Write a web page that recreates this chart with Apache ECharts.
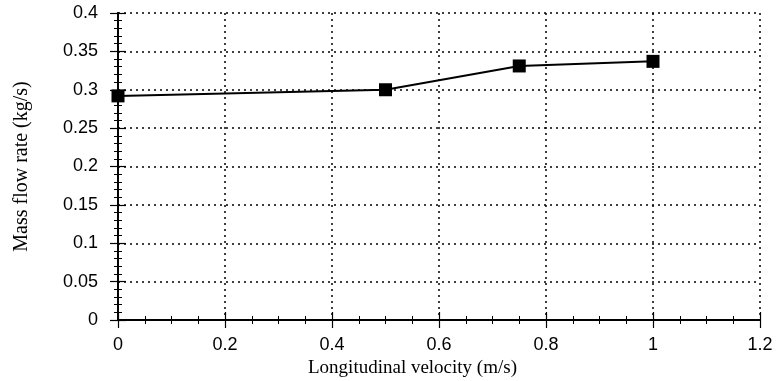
<!DOCTYPE html>
<html>
<head>
<meta charset="utf-8">
<script src="https://cdn.jsdelivr.net/npm/echarts@6/dist/echarts.min.js"></script>
<style>html,body{margin:0;padding:0;background:#fff;}#c{width:776px;height:381px;}</style>
</head>
<body>
<div id="c"></div>
<script>
const velocity = [0, 0.5, 0.75, 1.0];
const massFlow = [0.292, 0.300, 0.331, 0.337];
const xTitle = 'Longitudinal velocity (m/s)';
const yTitle = 'Mass flow rate (kg/s)';

const chart = echarts.init(document.getElementById('c'));
const axisLine = {show: true, lineStyle: {color: '#000', width: 2}};
const split = {show: true, lineStyle: {color: '#000', width: 1.5, type: [2, 4]}};
const tickFont = {color: '#000', fontFamily: 'Liberation Sans', fontSize: 18};
const xBase = {type: 'value', min: 0, max: 1.2, interval: 0.2, axisLine: axisLine,
  axisTick: {show: true, inside: true, length: 8, lineStyle: {color: '#000', width: 1.2}},
  minorTick: {show: true, splitNumber: 4, length: 4, lineStyle: {color: '#000', width: 1}}};
const yBase = {type: 'value', min: 0, max: 0.4, interval: 0.05, axisLine: axisLine,
  axisTick: {show: true, inside: true, length: 8, lineStyle: {color: '#000', width: 1.2}},
  minorTick: {show: true, splitNumber: 5, length: 4, lineStyle: {color: '#000', width: 1}}};

chart.setOption({
  animation: false,
  backgroundColor: '#fff',
  grid: {left: 118, right: 16, top: 13, bottom: 61},
  title: {text: xTitle, left: 303, top: 354,
    textStyle: {fontFamily: 'Liberation Serif', fontSize: 19, fontWeight: 'normal', color: '#000'}},
  xAxis: [
    Object.assign({}, xBase, {position: 'bottom', splitLine: split,
      axisLabel: Object.assign({margin: 16, formatter: v => String(+v.toFixed(1))}, tickFont)}),
    Object.assign({}, xBase, {position: 'top', splitLine: {show: false}, axisLabel: {show: false}})
  ],
  yAxis: [
    Object.assign({}, yBase, {position: 'left', splitLine: split,
      name: yTitle, nameLocation: 'middle', nameGap: 86,
      nameTextStyle: {fontFamily: 'Liberation Serif', fontSize: 20, color: '#000'},
      axisLabel: Object.assign({margin: 20, formatter: v => String(+v.toFixed(2))}, tickFont)}),
    Object.assign({}, yBase, {position: 'right', splitLine: {show: false}, axisLabel: {show: false}})
  ],
  series: [{
    type: 'line',
    data: velocity.map((x, i) => [x, massFlow[i]]),
    symbol: 'rect', symbolSize: 13,
    itemStyle: {color: '#000'},
    lineStyle: {color: '#000', width: 2}
  }]
});
</script>
</body>
</html>
